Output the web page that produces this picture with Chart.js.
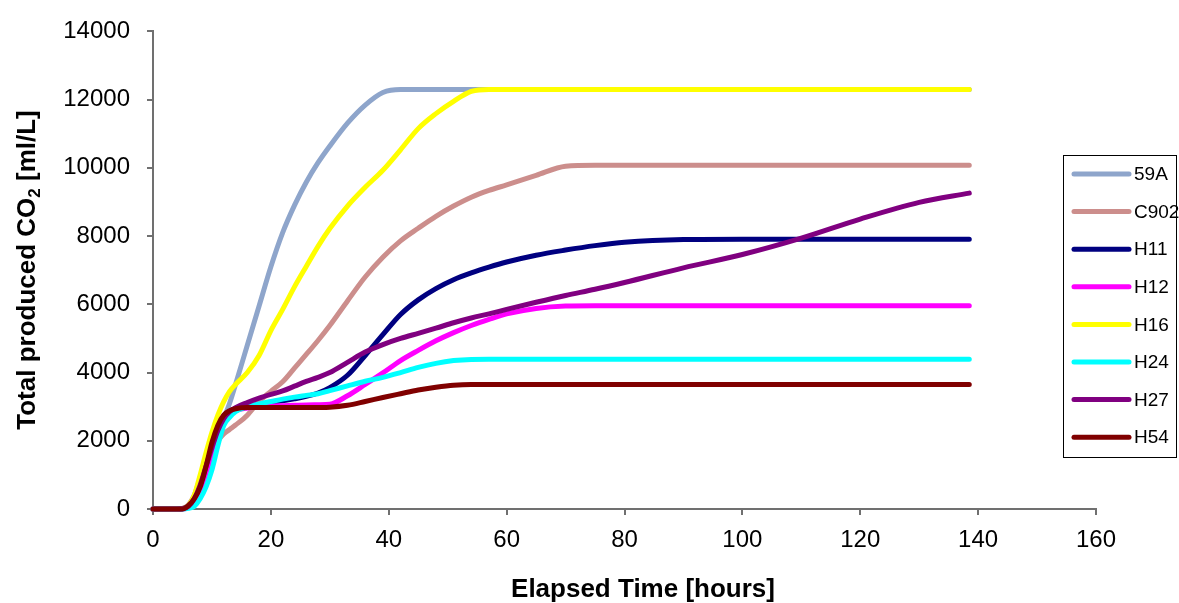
<!DOCTYPE html>
<html><head><meta charset="utf-8">
<script src="https://cdn.jsdelivr.net/npm/chart.js@4.4.0/dist/chart.umd.min.js"></script>
<style>html,body{margin:0;padding:0;background:#fff;}</style>
</head><body>
<canvas id="c" width="1179" height="603"></canvas>
<script>
// ---- data ----
const hours = [0,4,5,6,7,8,9,10,11,12,13,14,16,18,20,22,24,26,28,30,33,36,39,42,45,48,51,54,57,60,65,70,75,80,90,100,110,120,130,138.5];
const seriesNames = ['59A','C902','H11','H12','H16','H24','H27','H54'];
const seriesColors = ['#8EA5CB','#CC8E8C','#000080','#FF00FF','#FFFF00','#00FFFF','#800080','#800000'];
const s59A = [0,0,10,100,350,750,1250,1800,2250,2650,3100,3650,4800,5950,7100,8100,8900,9580,10150,10640,11310,11840,12210,12300,12300,12300,12300,12300,12300,12300,12300,12300,12300,12300,12300,12300,12300,12300,12300,12300];
const sC902 = [0,0,20,120,400,900,1350,1750,2000,2200,2330,2460,2750,3150,3450,3730,4130,4530,4940,5380,6100,6800,7380,7860,8230,8580,8880,9140,9340,9500,9780,10050,10080,10080,10080,10080,10080,10080,10080,10080];
const sH11 = [0,0,5,80,300,700,1250,1800,2300,2650,2850,2950,3020,3060,3120,3170,3230,3300,3400,3560,3920,4500,5110,5700,6130,6460,6720,6920,7090,7240,7440,7590,7720,7820,7900,7910,7910,7910,7910,7910];
const sH12 = [0,0,0,40,200,550,1050,1600,2150,2550,2780,2880,2960,3000,3020,3030,3040,3050,3055,3070,3320,3650,3990,4350,4650,4930,5170,5380,5560,5720,5880,5950,5960,5960,5960,5960,5960,5960,5960,5960];
const sH16 = [0,0,10,100,400,1000,1650,2250,2750,3150,3450,3650,4000,4500,5230,5850,6510,7110,7700,8220,8880,9430,9930,10530,11150,11590,11950,12240,12300,12300,12300,12300,12300,12300,12300,12300,12300,12300,12300,12300];
const sH24 = [0,0,0,20,80,300,650,1150,1850,2450,2685,2850,3000,3080,3150,3220,3280,3330,3380,3470,3610,3745,3860,4000,4150,4270,4350,4385,4390,4390,4390,4390,4390,4390,4390,4390,4390,4390,4390,4390];
const sH27 = [0,0,5,80,300,700,1250,1800,2300,2650,2850,2970,3120,3250,3360,3460,3600,3740,3860,4000,4300,4600,4820,5000,5150,5300,5460,5600,5720,5850,6060,6260,6440,6640,7070,7460,7940,8500,8990,9260];
const sH54 = [0,0,0,100,300,650,1250,1950,2450,2750,2880,2940,2975,2975,2975,2975,2975,2975,2978,2985,3040,3150,3268,3380,3490,3570,3630,3650,3650,3650,3650,3650,3650,3650,3650,3650,3650,3650,3650,3650];
const seriesValues = [s59A,sC902,sH11,sH12,sH16,sH24,sH27,sH54];
const xTitle = 'Elapsed Time [hours]';
const yTitleA = 'Total produced CO';
const yTitleSub = '2';
const yTitleB = ' [ml/L]';

const FONT = '"Liberation Sans", Arial, sans-serif';

const datasets = seriesNames.map((name, i) => ({
  label: name,
  data: hours.map((h, k) => ({x: h, y: seriesValues[i][k]})),
  borderColor: seriesColors[i],
  backgroundColor: seriesColors[i],
  borderWidth: 5,
  pointRadius: 0,
  cubicInterpolationMode: 'monotone',
  borderCapStyle: 'round',
  borderJoinStyle: 'round',
  fill: false,
  clip: false,
  order: seriesNames.length - 1 - i
}));

const overlay = {
  id: 'overlay',
  afterDraw(chart) {
    const ctx = chart.ctx;
    ctx.save();
    ctx.fillStyle = '#000';
    // x title
    ctx.font = 'bold 26px ' + FONT;
    ctx.textAlign = 'center';
    ctx.textBaseline = 'middle';
    ctx.fillText(xTitle, 643, 590);
    // y title with subscript
    ctx.save();
    ctx.translate(26, 270);
    ctx.rotate(-Math.PI / 2);
    ctx.textAlign = 'left';
    ctx.textBaseline = 'alphabetic';
    const big = 'bold 26px ' + FONT, small = 'bold 17px ' + FONT;
    ctx.font = big; const wA = ctx.measureText(yTitleA).width; const wB = ctx.measureText(yTitleB).width;
    ctx.font = small; const wS = ctx.measureText(yTitleSub).width;
    let x0 = -(wA + wS + wB) / 2;
    const base = 9;
    ctx.font = big; ctx.fillText(yTitleA, x0, base); x0 += wA;
    ctx.font = small; ctx.fillText(yTitleSub, x0, base + 5); x0 += wS;
    ctx.font = big; ctx.fillText(yTitleB, x0, base);
    ctx.restore();
    // legend
    ctx.fillStyle = '#fff';
    ctx.fillRect(1063.5, 155.5, 113, 302);
    ctx.strokeStyle = '#000';
    ctx.lineWidth = 1;
    ctx.strokeRect(1063.5, 155.5, 113, 302);
    ctx.font = '19px ' + FONT;
    ctx.textAlign = 'left';
    ctx.textBaseline = 'middle';
    seriesNames.forEach((name, i) => {
      const y = 174 + i * 37.6;
      ctx.strokeStyle = seriesColors[i];
      ctx.lineWidth = 5;
      ctx.lineCap = 'round';
      ctx.beginPath(); ctx.moveTo(1074, y); ctx.lineTo(1129, y); ctx.stroke();
      ctx.fillStyle = '#000';
      ctx.fillText(name, 1134, y + 1);
    });
    ctx.restore();
  }
};

new Chart(document.getElementById('c'), {
  type: 'line',
  data: { datasets },
  options: {
    responsive: false,
    animation: false,
    layout: { padding: { top: 26, right: 83, bottom: 0, left: 0 } },
    plugins: { legend: { display: false }, tooltip: { enabled: false } },
    scales: {
      x: {
        type: 'linear', min: 0, max: 160,
        ticks: { stepSize: 20, color: '#000', font: { size: 24, family: FONT }, padding: 11, maxRotation: 0, callback: v => String(v) },
        grid: { drawOnChartArea: false, drawTicks: true, tickLength: 6, color: '#707070', lineWidth: 2 },
        border: { color: '#707070', width: 2 },
        afterFit(s) { s.height = 94; }
      },
      y: {
        type: 'linear', min: 0, max: 14000,
        ticks: { stepSize: 2000, color: '#000', font: { size: 24, family: FONT }, padding: 17, callback: v => String(v) },
        grid: { drawOnChartArea: false, drawTicks: true, tickLength: 6, color: '#707070', lineWidth: 2 },
        border: { color: '#707070', width: 2 },
        afterFit(s) { s.width = 153; }
      }
    }
  },
  plugins: [overlay]
});
</script>
</body></html>
